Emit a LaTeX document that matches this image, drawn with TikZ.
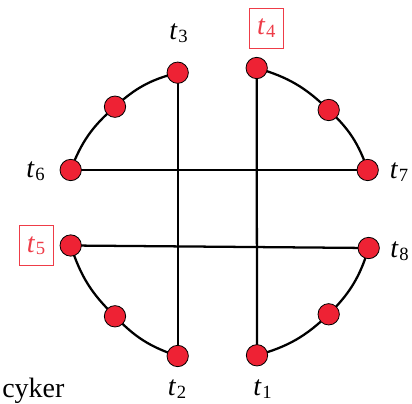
\documentclass[tikz,border=0pt]{standalone}
\usepackage{fontspec}
\setmainfont{Liberation Serif}
\newfontfamily\tms{Liberation Serif}
\definecolor{dotred}{RGB}{238,34,52}
\definecolor{labred}{RGB}{238,60,72}
\newcommand{\tlab}[1]{\tms\textit{t}\kern0.02em\raisebox{-2.2pt}{\tms\fontsize{14}{14}\selectfont #1}}
\begin{document}
\begin{tikzpicture}[x=0.75pt,y=-0.75pt,
  dot/.style={circle,draw=black,line width=0.6pt,fill=dotred,minimum size=16pt,inner sep=0pt},
  wire/.style={line width=1.7pt,black},
  lab/.style={font=\tms\fontsize{21}{21}\selectfont,inner sep=0pt,anchor=center},
  boxlab/.style={lab,text=labred,draw=labred,line width=0.7pt,minimum width=25.5pt,minimum height=30pt}]
\useasboundingbox (0,0) rectangle (412,404);
% positions
\coordinate (p3) at (177.7,72.7);
\coordinate (p6) at (70.7,170);
\coordinate (a) at (115,106.7);
\coordinate (p4) at (256.7,68);
\coordinate (b) at (328.7,110);
\coordinate (p7) at (367.7,170);
\coordinate (p5) at (70.7,245.5);
\coordinate (c) at (115,316.3);
\coordinate (p2) at (177.7,356);
\coordinate (p8) at (368.7,248);
\coordinate (d) at (328.7,314.3);
\coordinate (p1) at (257,355.3);
% straight connectors
\draw[wire] (p3) -- (p2);
\draw[wire] (p4) -- (p1);
\draw[wire] (p6) -- (p7);
\draw[wire] (p5) -- (p8);
% arcs
\draw[wire] (p6) to[bend left=14] (a) to[bend left=14] (p3);
\draw[wire] (p4) to[bend left=14] (b) to[bend left=14] (p7);
\draw[wire] (p8) to[bend left=14] (d) to[bend left=14] (p1);
\draw[wire] (p2) to[bend left=14] (c) to[bend left=14] (p5);
% dots
\foreach \p in {p1,p2,p3,p4,p5,p6,p7,p8,a,b,c,d}
  \node[dot] (n\p) at (\p) {};
% labels
\node[lab] (l3) at (178.5,33) {\tlab{3}};
\node[boxlab] (l4) at (266.3,28.3) {\tlab{4}};
\node[lab] (l6) at (35.5,171) {\tlab{6}};
\node[lab] (l7) at (399,172) {\tlab{7}};
\node[boxlab] (l5) at (36,245.7) {\tlab{5}};
\node[lab] (l8) at (399.5,251) {\tlab{8}};
\node[lab] (l2) at (177,389) {\tlab{2}};
\node[lab] (l1) at (262.5,389) {\tlab{1}};
\node[font=\tms\fontsize{21}{21}\selectfont,inner sep=0pt,anchor=base west] (cy) at (2,397) {cyker};
\end{tikzpicture}
\end{document}
